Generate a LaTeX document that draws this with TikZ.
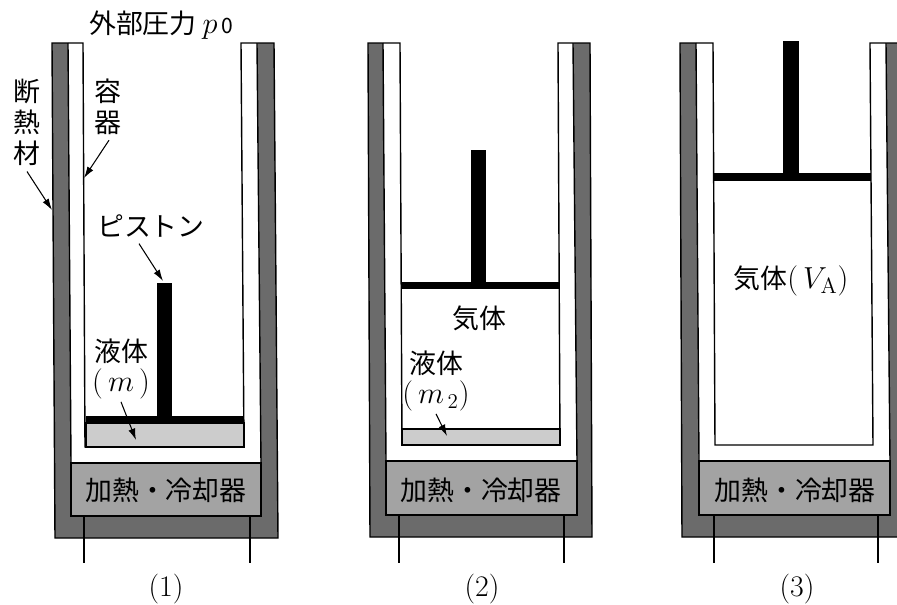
\documentclass[tikz,border=0pt]{standalone}
\usepackage{fontspec}
\newfontfamily\jpfont{Noto Sans CJK JP}
\usetikzlibrary{positioning,arrows.meta}
\definecolor{insulgray}{gray}{0.42}
\definecolor{heatgray}{gray}{0.64}
\definecolor{liquidgray}{gray}{0.80}
\newcommand{\bigmath}[1]{{\fontsize{18}{20}\selectfont$#1$}}
\tikzset{
	insul/.style={fill=insulgray,draw=black,thick},
	wall/.style={draw=black,thick},
	heater/.style={fill=heatgray,draw=black,very thick},
	liquid/.style={fill=liquidgray,draw=black,semithick},
	jplabel/.style={font=\jpfont\fontsize{15.3}{17.6}\selectfont,inner sep=0pt,align=center},
	panellabel/.style={font=\fontsize{17}{20}\selectfont,inner sep=0pt},
	pointer/.style={-{Latex[length=6.5pt,width=4pt]},semithick},
	lead/.style={draw=black,thick}
}
\begin{document}
\begin{tikzpicture}[x=0.02cm,y=-0.02cm]
	\useasboundingbox (0,0) rectangle (897,605);
	% panel 1
	\filldraw[insul] (52,43)--(55,538)--(278,538)--(274,43)--cycle;
	\fill[white] (68,41)--(71,463)--(261,463)--(257,41)--cycle;
	\draw[wall] (68,43)--(71,463);
	\draw[wall] (257,43)--(261,463);
	\draw[wall] (68,43)--(83,43)--(85,447)--(244,447)--(241,43)--(257,43);
	\filldraw[liquid] (86,423) rectangle (244,447);
	\fill[black] (86,416) rectangle (244,423);
	\fill[black] (157,283) rectangle (172,420);
	\filldraw[heater] (71,463) rectangle (261,516);
	\draw[lead] (84,516)--(84,563);
	\draw[lead] (250,516)--(250,563);
	\node[jplabel] (heatA) at (166,490) {加熱・冷却器};
	\node[jplabel] (extp) at (161,25) {外部圧力 \bigmath{p}{\fontsize{12}{12}\selectfont\,0}};
	\node[jplabel] (insulA) at (27,122) {断\\熱\\材};
	\node[jplabel] (vesselA) at (108,107) {容\\器};
	\node[jplabel] (pistonA) at (151,226) {ピストン};
	\node[jplabel] (liquidA) at (121,369) {液体\\\bigmath{(\,m\,)}};
	\node[panellabel] (capA) at (166,589) {(1)};
	\coordinate (insulAtip) at (52,210);
	\coordinate (vesselAtip) at (84,178);
	\coordinate (pistonAtip) at (163,281);
	\coordinate (liquidAtip) at (136,440);
	\draw[pointer] (insulA.south) ++(0,6) -- (insulAtip);
	\draw[pointer] (vesselA.south) ++(1,5) -- (vesselAtip);
	\draw[pointer] (pistonA.south) ++(-12,6) -- (pistonAtip);
	\draw[pointer] (liquidA.south) ++(0,2) -- (liquidAtip);
	% panel 2
	\filldraw[insul] (368,43)--(370,537)--(592,537)--(590,43)--cycle;
	\fill[white] (383,41)--(386,461)--(577,461)--(573,41)--cycle;
	\draw[wall] (383,43)--(386,461);
	\draw[wall] (573,43)--(577,461);
	\draw[wall] (383,43)--(400,43)--(402,445)--(560,445)--(558,43)--(573,43);
	\filldraw[liquid] (402,429) rectangle (560,445);
	\fill[black] (401,282) rectangle (559,289);
	\fill[black] (471,150) rectangle (486,285);
	\filldraw[heater] (386,461) rectangle (577,515);
	\draw[lead] (399,515)--(399,563);
	\draw[lead] (564,515)--(564,563);
	\node[jplabel] (heatB) at (481,490) {加熱・冷却器};
	\node[jplabel] (gasB) at (479,318) {気体};
	\node[jplabel] (liquidB) at (436,381) {液体\\\bigmath{(\,m_{\,2})}};
	\node[panellabel] (capB) at (482,589) {(2)};
	\coordinate (liquidBtip) at (447,436);
	\draw[pointer] (liquidB.south) ++(0,2) -- (liquidBtip);
	% panel 3
	\filldraw[insul] (680,43)--(682,537)--(900,537)--(900,43)--cycle;
	\fill[white] (696,41)--(699,461)--(890,461)--(886,41)--cycle;
	\draw[wall] (696,43)--(699,461);
	\draw[wall] (886,43)--(890,461);
	\draw[wall] (696,43)--(713,43)--(715,445)--(873,445)--(870,43)--(886,43);
	\fill[black] (714,173) rectangle (871,181);
	\fill[black] (783,41) rectangle (799,177);
	\filldraw[heater] (699,461) rectangle (890,515);
	\draw[lead] (714,515)--(714,563);
	\draw[lead] (878,515)--(878,563);
	\node[jplabel] (heatC) at (795,490) {加熱・冷却器};
	\node[jplabel] (gasC) at (791,281) {気体\bigmath{(\,V_{\mathrm{A}})}};
	\node[panellabel] (capC) at (797,589) {(3)};
\end{tikzpicture}
\end{document}
